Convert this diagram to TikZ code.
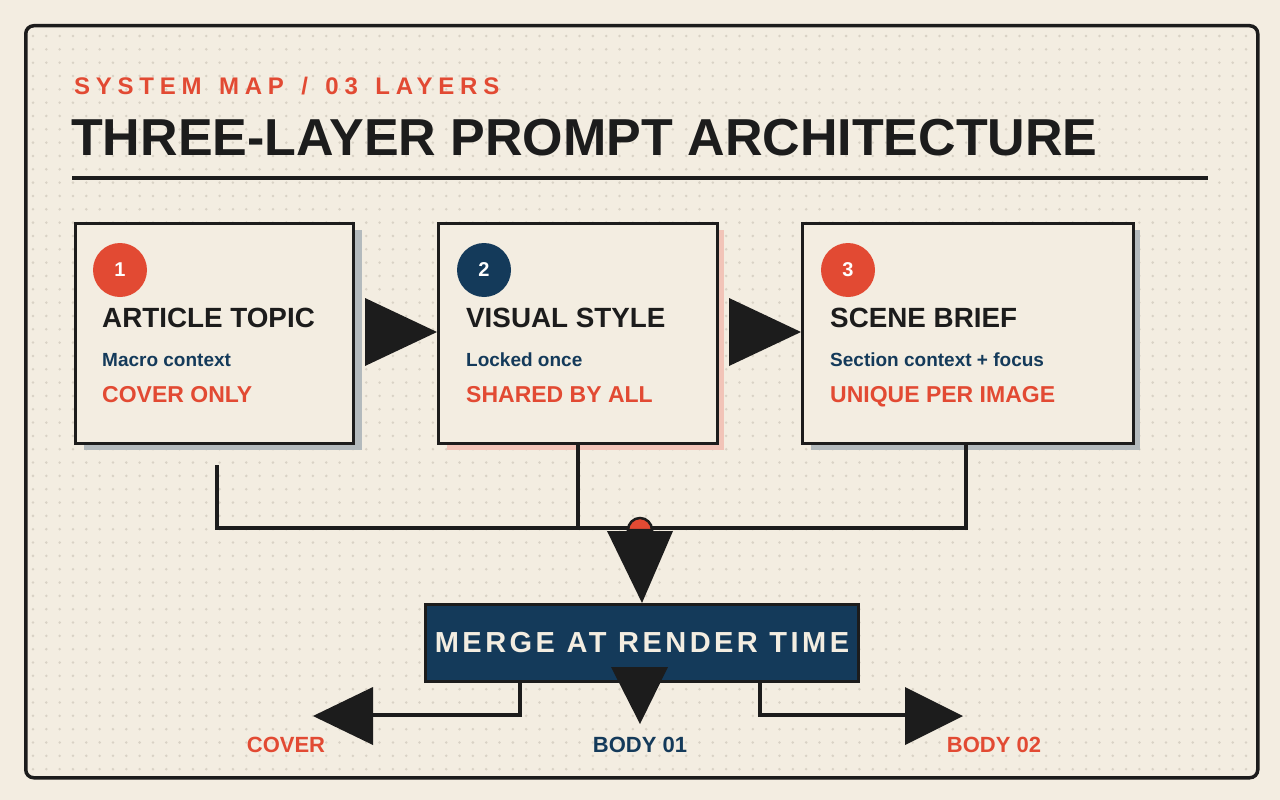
\documentclass[tikz,border=0pt]{standalone}
\usepackage{fontspec}
\setmainfont{Liberation Sans}
\definecolor{bg}{HTML}{F3EDE1}
\definecolor{dotc}{HTML}{D9D2C5}
\definecolor{ink}{HTML}{1C1C1C}
\definecolor{accent}{HTML}{E24A33}
\definecolor{navy}{HTML}{143A5A}
\definecolor{shgray}{HTML}{B3BABD}
\definecolor{shpink}{HTML}{F2C4B8}
\begin{document}
\begin{tikzpicture}[x=1pt,y=-1pt,
  box/.style={draw=ink,line width=3,fill=bg,anchor=north west,inner sep=0},
  num/.style={circle,minimum size=54,inner sep=0,text=white,font=\fontsize{20}{20}\selectfont\bfseries},
  head/.style={anchor=base west,inner sep=0,text=ink,font=\fontsize{27.8}{28}\selectfont\bfseries},
  sub/.style={anchor=base west,inner sep=0,text=navy,font=\fontsize{19}{19}\selectfont\bfseries},
  tag/.style={anchor=base west,inner sep=0,text=accent,font=\fontsize{23}{23}\selectfont\bfseries},
  wire/.style={draw=ink,line width=4},
  tri/.style={fill=ink},
  outlbl/.style={anchor=base,inner sep=0,font=\fontsize{22}{22}\selectfont\bfseries}]
\useasboundingbox (0,0) rectangle (1280,800);
\fill[bg] (0,0) rectangle (1280,800);
\foreach \i in {0,...,91}{\foreach \j in {0,...,55}{
  \fill[dotc] (33+\i*13.33,36+\j*13.33) circle (1.4);}}
\node[draw=ink,line width=3.5,rounded corners=8,minimum width=1232,minimum height=752,anchor=north west] (frame) at (24,24) {};
\node[anchor=base west,inner sep=0,text=accent,font=\fontsize{24}{24}\selectfont\bfseries\addfontfeature{LetterSpace=24}] (kicker) at (74,94) {SYSTEM\hspace{5pt} MAP\hspace{5pt} /\hspace{5pt} 03\hspace{5pt} LAYERS};
\node[anchor=base west,inner sep=0,text=ink,font=\fontsize{52}{52}\selectfont\bfseries] (title) at (71,155) {THREE-LAYER PROMPT ARCHITECTURE};
\coordinate (r1) at (72,178); \coordinate (r2) at (1208,178);
\draw[ink,line width=4] (r1) -- (r2);
% shadows
\fill[shgray] (84,230) rectangle (362,450);
\fill[shpink] (447,230) rectangle (724,450);
\fill[shgray] (811,230) rectangle (1140,450);
% boxes
\node[box,minimum width=278,minimum height=220] (b1) at (74,222) {};
\node[box,minimum width=279,minimum height=220] (b2) at (437,222) {};
\node[box,minimum width=331,minimum height=220] (b3) at (801,222) {};
\node[num,fill=accent] (n1) at (120,270) {1};
\node[num,fill=navy] (n2) at (484,270) {2};
\node[num,fill=accent] (n3) at (848,270) {3};
\node[head] (h1) at (102,327) {ARTICLE TOPIC};
\node[head] (h2) at (466,327) {VISUAL STYLE};
\node[head] (h3) at (830,327) {SCENE BRIEF};
\node[sub] (s1) at (102,366) {Macro context};
\node[sub] (s2) at (466,366) {Locked once};
\node[sub] (s3) at (830,366) {Section context + focus};
\node[tag] (t1) at (102,402) {COVER ONLY};
\node[tag] (t2) at (466,402) {SHARED BY ALL};
\node[tag] (t3) at (830,402) {UNIQUE PER IMAGE};
% arrows between boxes
\fill[tri] (365,298) -- (b2.west |- 0,332) -- (365,366) -- cycle;
\fill[tri] (729,298) -- (b3.west |- 0,332) -- (729,366) -- cycle;
% bus
\coordinate (j) at (640,528);
\draw[wire] (217,465) -- (217,528) -- (966,528) -- (b3.south -| 966,0);
\draw[wire] (b2.south -| 578,0) -- (578,528);
\draw[ink,line width=2.5,fill=accent] (628,530) arc[start angle=180,end angle=360,radius=12] -- cycle;
% merge
\node[draw=ink,line width=3,fill=navy,minimum width=433,minimum height=77,anchor=north west,inner sep=0,text=bg,font=\fontsize{29}{29}\selectfont\bfseries\addfontfeature{LetterSpace=12}] (m) at (424,603) {MERGE AT RENDER TIME};
\fill[tri] (607,531) -- (673,531) -- (m.north) -- cycle;
\fill[tri] (611,667) -- (668,667) -- (640,724) -- cycle;
\draw[wire] (m.south -| 520,0) -- (520,715) -- (373,715);
\fill[tri] (373,687) -- (313,716) -- (373,745) -- cycle;
\draw[wire] (m.south -| 760,0) -- (760,715) -- (905,715);
\fill[tri] (905,687) -- (963,716) -- (905,745) -- cycle;
\node[outlbl,text=accent] (o1) at (286,752) {COVER};
\node[outlbl,text=navy] (o2) at (640,752) {BODY 01};
\node[outlbl,text=accent] (o3) at (994,752) {BODY 02};
\end{tikzpicture}
\end{document}
